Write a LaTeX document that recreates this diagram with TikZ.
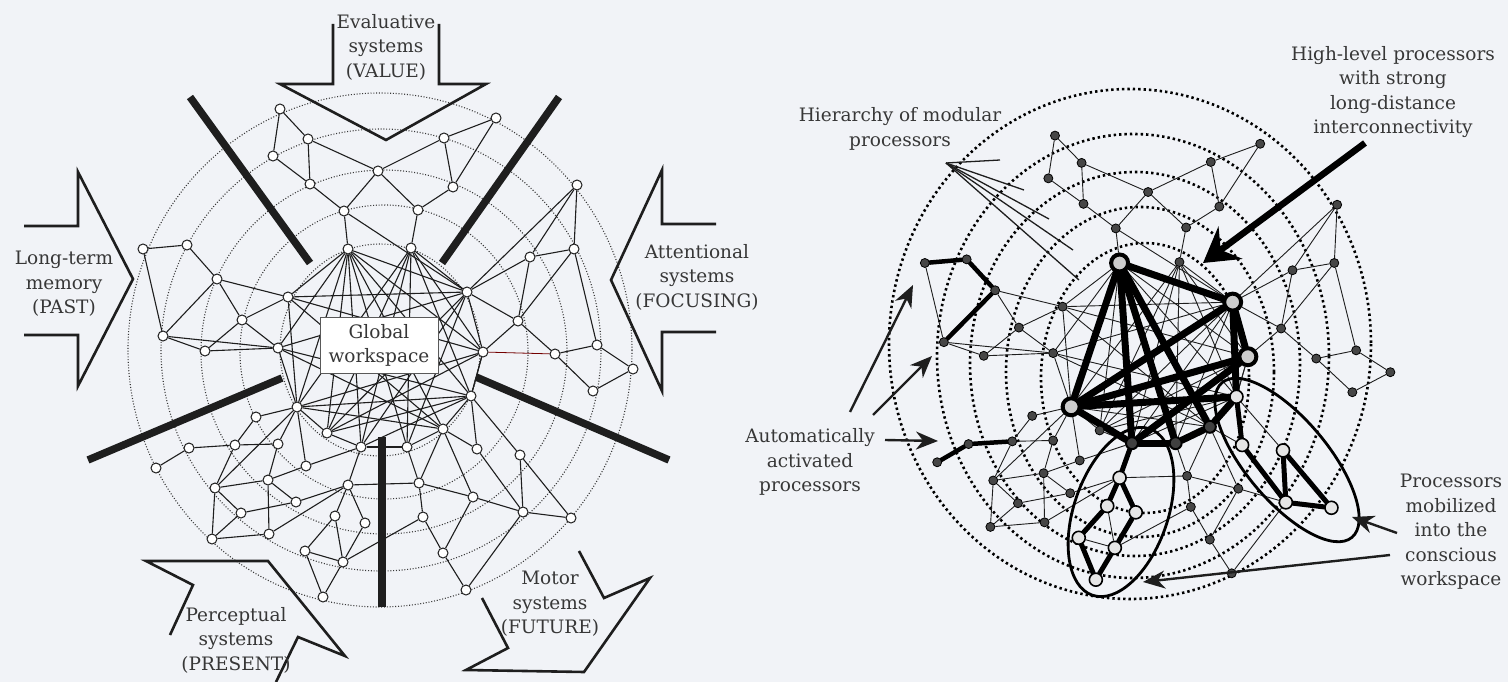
\documentclass[tikz,border=0pt]{standalone}
\usepackage{fontspec}
\setmainfont{DejaVu Serif}
\usetikzlibrary{arrows.meta}
\pgfdeclarelayer{ringlayer}
\pgfdeclarelayer{edgelayer}
\pgfsetlayers{ringlayer,edgelayer,main}
\definecolor{bgcol}{RGB}{241,243,247}
\definecolor{ink}{RGB}{30,30,30}
\definecolor{txt}{RGB}{55,55,55}
\def\nodelist{A1/280/109/n, A2/308/139/n, A3/273/156/n, A4/378/171/n, A5/310/184/n, A6/344/211/n, A7/348/249/h,
B1/143/249/n, B2/187/245/n, B3/217/279/n, B4/288/297/n, B5/242/320/n, B6/163/336/n, B7/205/351/n, B8/278/348/n,
C1/496/118/n, C2/444/138/n, C4/453/187/n, C5/418/210/n, C6/411/248/n, C7/577/185/n, C8/530/257/n, C9/574/249/n, C10/467/292/h, C11/518/321/n, C12/483/352/h, C13/555/354/n, C14/597/345/n, C15/633/369/n,
D5/593/391/n, D6/471/396/m, D7/443/429/k, D8/407/447/k, D9/477/449/m, D10/520/455/m, D11/419/483/n, D12/473/497/n, D13/523/512/m, D14/571/518/m, D15/423/517/n, D16/443/553/n, D17/466/590/n,
E3/297/407/h, E4/256/417/n, E5/327/433/n, E6/361/447/k, E7/189/448/n, E8/235/445/n, E9/278/444/n, E10/156/468/n, E11/306/466/n, E12/215/488/n, E13/268/480/n, E14/348/485/m, E15/296/502/n, E16/241/513/n, E17/335/516/m, E18/365/523/m, E19/212/539/n, E20/269/534/n, E21/305/551/m, E22/343/562/m, E23/323/597/m}
\def\edgelist{A1/A2, A1/A3, A2/A5, A3/A5, A2/A4, A5/A6, A4/A6, A6/A7, A4/C2, A4/C5, C1/C2, C1/C4, C2/C4, C4/C5, C5/C6, A6/C10, C6/C10,
B1/B2, B1/B6, B2/B3, B3/B6, B3/B5, B3/B4, B4/B5, B5/B8, B5/B7, B6/B7, B6/B8, B7/B8, B4/E3,
C7/C8, C7/C9, C7/C10, C8/C9, C8/C10, C8/C11, C9/C11, C10/C11, C11/C13, C11/C12, C9/C14, C13/C14, C14/C15, C13/D5, D5/C15,
A7/B4, A7/B8, A7/E3, A7/E5, A7/E6, A7/D8, A7/D7, A7/D6, A7/C12, A7/C10,
C6/E3, C6/E5, C6/D8, C6/D6, C6/C12, C6/E6,
B4/C10, B4/D7, B4/C12, B8/C10, B8/E3, B8/D7, B8/D6,
E3/C12, E3/D6, E3/D7, C10/E5, C10/E6, C10/D8, C10/C12, C12/E5, C12/D6, E5/D6, E6/D6,
E3/E4, E4/E8, E8/E7, E7/E10, E8/E12, E8/E9, E9/E13, E3/E9, E3/E11, E3/E12, E3/E5, E5/E6, E11/E13, E11/E6, E12/E13, E12/E19, E12/E16, E16/E19, E19/E20, E13/E20, E16/E15, E15/E14, E14/E17, E14/E18, E17/E22, E18/E22, E21/E22, E21/E23, E22/E23, E20/E14, E17/E21, E13/E15, E6/E14,
C12/D6, D6/D7, D6/D9, D6/D10, D7/D8, D7/D9, D7/D11, D7/D12, D9/D13, D10/D13, D10/D14, D11/D12, D11/D15, D12/D13, D12/D16, D13/D14, D13/D17, D15/D16, D16/D17, D11/E14, D8/E6, D15/E22, D8/D11}
\newcommand\netnodes[1]{\foreach \n/\x/\y/\s in \nodelist {\node[#1\s] (#1\n) at (\x,\y) {};}}
\newcommand\netedges[2]{\foreach \a/\b in \edgelist {\draw[#2] (#1\a) -- (#1\b);}}
\tikzset{
  lnode/.style={circle, draw=ink, fill=white, line width=1pt, inner sep=0pt, minimum size=10pt},
  Ln/.style={lnode}, Lh/.style={lnode}, Lm/.style={lnode}, Lk/.style={lnode},
  Rn/.style={circle, draw=black, fill=gray!55!black, line width=0.8pt, inner sep=0pt, minimum size=9pt},
  Rh/.style={circle, draw=black, fill=gray!40, line width=4pt, inner sep=0pt, minimum size=17pt},
  Rk/.style={circle, draw=black, fill=black!75, line width=2pt, inner sep=0pt, minimum size=12pt},
  Rm/.style={circle, draw=black, fill=gray!20, line width=1.6pt, inner sep=0pt, minimum size=13pt},
  ledge/.style={draw=ink, line width=1.1pt},
  redge/.style={draw=ink, line width=0.9pt},
  lring/.style={draw=gray!45!black, line width=1.1pt, dash pattern=on 1pt off 1.8pt},
  rring/.style={draw=black, line width=2.6pt, dash pattern=on 2.4pt off 3pt},
  bar/.style={draw=ink, line width=7.5pt},
  barrow/.style={draw=ink, line width=2.6pt, line join=miter},
  lbl/.style={align=center, font=\fontsize{18.5}{24.5}\selectfont, inner sep=0pt, text=txt},
  thk/.style={draw=black, line width=#1, line cap=round},
  ptr/.style={draw=ink, line width=2.4pt, -{Stealth[length=22pt,width=18pt,inset=7pt]}}
}
\begin{document}
\begin{tikzpicture}[x=1pt,y=-1pt]
\useasboundingbox (0,0) rectangle (1508,682);
\begin{pgfonlayer}{ringlayer}
\fill[bgcol] (0,0) rectangle (1508,682);
% left rings
\draw[lring] (380,350) ellipse [x radius=252, y radius=257];
\draw[lring] (381,350) ellipse [x radius=220, y radius=221];
\draw[lring] (384,352) ellipse [x radius=183, y radius=182];
\draw[lring] (384,352) ellipse [x radius=144, y radius=147];
\draw[lring] (380,350) ellipse [x radius=100, y radius=106];
% right rings
\draw[rring] (1130,344) ellipse [x radius=241, y radius=255];
\draw[rring] (1133,356) ellipse [x radius=196, y radius=222];
\draw[rring] (1135,364) ellipse [x radius=165, y radius=192];
\draw[rring] (1140,372) ellipse [x radius=134, y radius=165];
\draw[rring] (1145,378) ellipse [x radius=104, y radius=135];
\end{pgfonlayer}

% ---------- left network
\netnodes{L}
\begin{pgfonlayer}{edgelayer}
\netedges{L}{ledge}
\draw[red!45!black, line width=0.8pt] (LC12) -- (LC13);
\end{pgfonlayer}
\node[draw=gray!70!black, fill=white, line width=1pt, minimum width=118pt, minimum height=56pt, align=center, font=\fontsize{18.5}{24}\selectfont, text=txt, inner sep=0pt] (gw) at (379,345) {Global\\workspace};

% dividing bars
\draw[bar] (190,97) -- (310,263);
\draw[bar] (559,97) -- (442,263);
\draw[bar] (88,460) -- (282,378);
\draw[bar] (476,377) -- (669,460);
\draw[bar] (382,437) -- (382,607);

% block arrows
\draw[barrow] (333,24) -- (333,84) -- (280,84) -- (386,140) -- (486,84) -- (439,84) -- (439,24);
\draw[barrow] (24,226) -- (78,226) -- (78,172) -- (133,279) -- (78,386) -- (78,335) -- (24,335);
\draw[barrow] (716,224) -- (662,224) -- (662,170) -- (611,280) -- (662,391) -- (662,332) -- (716,332);
\draw[barrow] (579,551) -- (604,598) -- (650,578) -- (584,672) -- (466,670) -- (508,648) -- (482,598);
\draw[barrow] (276,682) -- (298,637) -- (345,656) -- (268,561) -- (146,561) -- (193,585) -- (170,635);

\node[lbl] (tval) at (386,47) {Evaluative\\systems\\(VALUE)};
\node[lbl] (tpast) at (64,284) {Long-term\\memory\\(PAST)};
\node[lbl] (tfoc) at (697,277) {Attentional\\systems\\(FOCUSING)};
\node[lbl] (tpres) at (236,640) {Perceptual\\systems\\(PRESENT)};
\node[lbl] (tfut) at (550,604) {Motor\\systems\\(FUTURE)};

% ---------- right network
\begin{scope}[shift={(789,36.4)}, xscale=0.95, yscale=0.91]
\netnodes{R}
\end{scope}
\begin{pgfonlayer}{edgelayer}
\netedges{R}{redge}
\foreach \a/\b in {B1/B2, B2/B3, B3/B6, E10/E7, E7/E8} {\draw[thk=4.5pt] (R\a) -- (R\b);}
\foreach \a/\b in {A7/C10, A7/E3, A7/E6, A7/D8, A7/D7, C10/C12, C10/E3, C12/E3, E3/D6, E3/E6, E6/D8, D8/D7, D7/D6, C10/D6, C12/E6} {\draw[thk=7pt] (R\a) -- (R\b);}
\foreach \a/\b in {E14/E17, E17/E21, E21/E23, E23/E22, E22/E18, E18/E14, E6/E14, D6/D9, D9/D13, D13/D10, D10/D14, D13/D14} {\draw[thk=5pt] (R\a) -- (R\b);}
\end{pgfonlayer}
\draw[black, line width=2.8pt, shift={(1121,512)}, rotate=71] (0,0) ellipse [x radius=88, y radius=47];
\draw[black, line width=2.8pt, shift={(1287,460)}, rotate=-50] (0,0) ellipse [x radius=101, y radius=41];

% right labels
\node[lbl] (thl) at (1393,92) {High-level processors\\with strong\\long-distance\\interconnectivity};
\node[lbl] (thier) at (900,129) {Hierarchy of modular\\processors};
\node[lbl] (tauto) at (810,462) {Automatically\\activated\\processors};
\node[lbl] (tmob) at (1451,532) {Processors\\mobilized\\into the\\conscious\\workspace};

% hierarchy fan
\coordinate (hap) at (946,163);
\coordinate (h1) at (1000,160);
\coordinate (h2) at (1024,190);
\coordinate (h3) at (1049,219);
\coordinate (h4) at (1073,250);
\coordinate (h5) at (1079,280);
\foreach \h in {h1,h2,h3,h4,h5} {\draw[ink, line width=1.3pt] (hap) -- (\h);}

% pointer arrows
\coordinate (hls) at (1365,143);
\coordinate (hle) at (1203,263);
\draw[draw=black, line width=6.5pt, -{Stealth[length=34pt,width=40pt,inset=12pt]}] (hls) -- (hle);
\coordinate (a1s) at (850,412); \coordinate (a1e) at (913,285);
\coordinate (a2s) at (873,415); \coordinate (a2e) at (932,356);
\coordinate (a3s) at (885,440); \coordinate (a3e) at (938,441);
\draw[ptr] (a1s) -- (a1e);
\draw[ptr] (a2s) -- (a2e);
\draw[ptr] (a3s) -- (a3e);
\coordinate (m1s) at (1397,533); \coordinate (m1e) at (1352,517);
\coordinate (m2s) at (1390,555); \coordinate (m2e) at (1143,582);
\draw[ptr] (m1s) -- (m1e);
\draw[ptr] (m2s) -- (m2e);
\end{tikzpicture}
\end{document}
